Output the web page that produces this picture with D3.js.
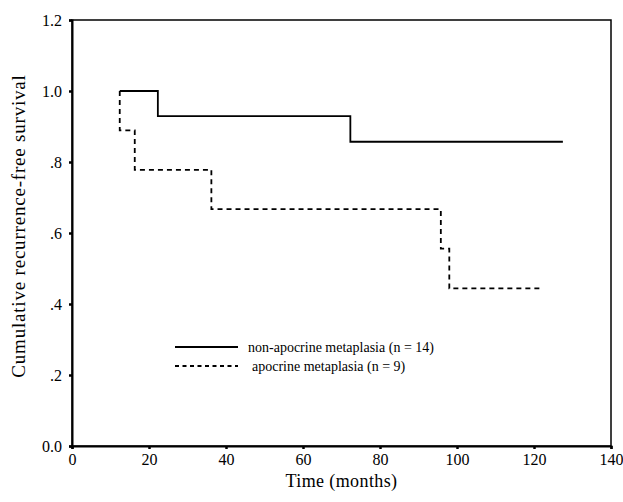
<!DOCTYPE html>
<html>
<head>
<meta charset="utf-8">
<script src="https://cdn.jsdelivr.net/npm/d3@7"></script>
<style>
  body { margin: 0; background: #fff; }
  text { font-family: "Liberation Serif", "DejaVu Serif", serif; fill: #000; }
</style>
</head>
<body>
<div id="chart-view"></div>
<script>
// Kaplan-Meier curves.
var xTicks = [0, 20, 40, 60, 80, 100, 120, 140];
var yTicks = [0, 0.2, 0.4, 0.6, 0.8, 1.0, 1.2];
var yTickLabels = ['0.0', '.2', '.4', '.6', '.8', '1.0', '1.2'];

var nonApoTime = [12.4, 22.3, 72.3, 127.5];
var nonApoSurv = [1.0, 0.929, 0.857, 0.857];

var apoTime = [12.4, 12.4, 16.3, 36.2, 95.8, 98.0, 122.0];
var apoSurv = [1.0, 0.889, 0.778, 0.667, 0.556, 0.444, 0.444];

var seriesNames = ['non-apocrine metaplasia (n = 14)', 'apocrine metaplasia (n = 9)'];

APP = {};

APP.main = function(){
  var svg = d3.select('#chart-view').append('svg')
      .attr('width', 623)
      .attr('height', 502);

  var x = d3.scaleLinear().domain([0, 140]).range([72, 611]);
  var y = d3.scaleLinear().domain([0, 1.2]).range([446, 20]);

  // frame (top and right sides)
  svg.append('rect')
      .attr('x', x(0)).attr('y', y(1.2))
      .attr('width', x(140) - x(0)).attr('height', y(0) - y(1.2))
      .attr('fill', 'none').attr('stroke', '#000').attr('stroke-width', 1.5);

  var xAxis = svg.append('g')
      .attr('transform', 'translate(0,' + y(0) + ')')
      .call(d3.axisBottom(x).tickValues(xTicks).tickSize(3).tickPadding(5).tickFormat(d3.format('d')));

  var yAxis = svg.append('g')
      .attr('transform', 'translate(' + x(0) + ',0)')
      .call(d3.axisLeft(y).tickValues(yTicks).tickSize(3).tickPadding(7)
        .tickFormat(function(d, i){ return yTickLabels[i]; }));

  [xAxis, yAxis].forEach(function(a){
    a.attr('font-family', null).attr('font-size', null);
    a.select('.domain').attr('stroke-width', 2);
    a.selectAll('.tick line').attr('stroke-width', 2.5);
    a.selectAll('text').style('font-size', '16px');
  });
  yAxis.selectAll('text').attr('dy', '0.35em');

  svg.append('text')
      .attr('x', (x(0) + x(140)) / 2)
      .attr('y', 487)
      .attr('text-anchor', 'middle')
      .style('font-size', '18px')
      .style('letter-spacing', '0.4px')
      .text('Time (months)');

  svg.append('text')
      .attr('transform', 'translate(25,226) rotate(-90)')
      .attr('text-anchor', 'middle')
      .style('font-size', '19px')
      .style('letter-spacing', '0.8px')
      .text('Cumulative recurrence-free survival');

  var line = d3.line()
      .x(function(d){ return x(d[0]); })
      .y(function(d){ return y(d[1]); })
      .curve(d3.curveStepAfter);

  svg.append('path')
      .datum(d3.zip(nonApoTime, nonApoSurv))
      .attr('d', line)
      .attr('fill', 'none')
      .attr('stroke', '#000')
      .attr('stroke-width', 1.8);

  svg.append('path')
      .datum(d3.zip(apoTime, apoSurv))
      .attr('d', line)
      .attr('fill', 'none')
      .attr('stroke', '#000')
      .attr('stroke-width', 1.8)
      .attr('stroke-dasharray', '5,4');

  // legend
  var legend = svg.append('g').selectAll('g')
      .data(seriesNames)
      .enter()
      .append('g')
      .attr('transform', function(d, i){ return 'translate(175,' + (347 + i * 19) + ')'; });

  legend.append('line')
      .attr('x1', 0).attr('x2', 63)
      .attr('stroke', '#000')
      .attr('stroke-width', 1.8)
      .attr('stroke-dasharray', function(d, i){ return i ? '4,3.5' : null; });

  legend.append('text')
      .attr('x', function(d, i){ return i ? 77 : 73; })
      .attr('dy', '0.35em')
      .style('font-size', '14px')
      .text(function(d){ return d; });
};

APP.main();
</script>
</body>
</html>
